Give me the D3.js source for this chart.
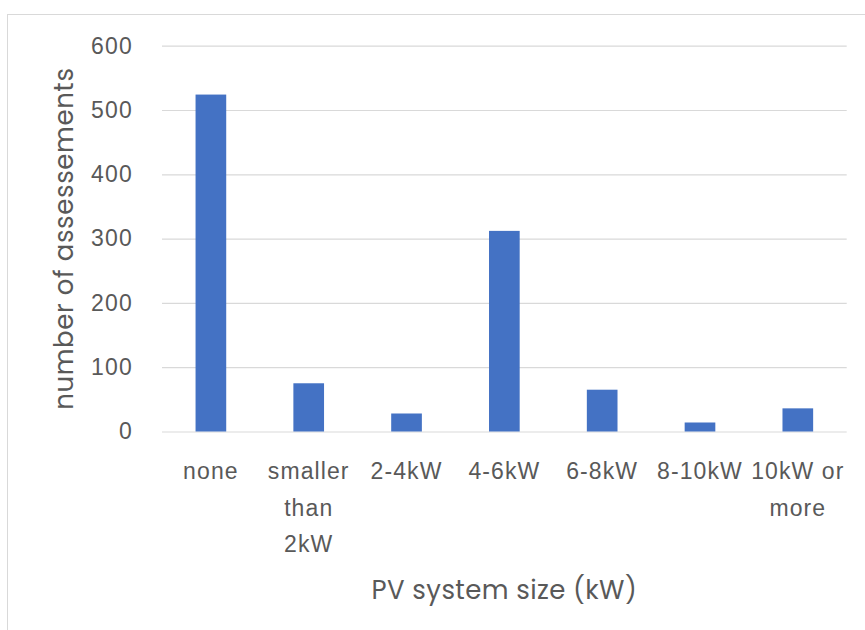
<!DOCTYPE html>
<html>
<head>
<meta charset="utf-8">
<script src="https://cdn.jsdelivr.net/npm/d3@7"></script>
<style>
    body { margin: 0; background: #fff; }
    svg { display: block; font-family: Poppins, "Open Sans", sans-serif; }
</style>
</head>
<body>
<div id="chart"></div>
<script>
    const categories = ["none", "smaller than 2kW", "2-4kW", "4-6kW", "6-8kW", "8-10kW", "10kW or more"];
    const counts = [524, 75, 28, 312, 65, 14, 36];
    const yTicks = [0, 100, 200, 300, 400, 500, 600];
    const xTitle = "PV system size (kW)";
    const yTitle = "number of assessements";

    (function() {
        const width = 865, height = 630;
        const marginLeft = 162, marginRight = 18.3, marginTop = 45.7, marginBottom = 198.5;
        const textColor = "#595959", gridColor = "#d9d9d9";

        const svg = d3.select("#chart").append("svg")
            .attr("width", width)
            .attr("height", height)
            .attr("viewBox", [0, 0, width, height]);

        // chart area frame, cut off at the right and bottom like the screenshot
        svg.append("rect")
            .attr("x", 7.5).attr("y", 14.5)
            .attr("width", 900).attr("height", 700)
            .attr("fill", "none")
            .attr("stroke", gridColor);

        const x = d3.scaleBand()
            .domain(categories)
            .range([marginLeft, width - marginRight])
            .paddingInner(0.6865)
            .paddingOuter(0.343);

        const y = d3.scaleLinear()
            .domain([0, 600])
            .range([height - marginBottom, marginTop]);

        // y axis: labels + gridlines
        svg.append("g")
            .attr("transform", `translate(${marginLeft},0)`)
            .call(d3.axisLeft(y).tickValues(yTicks).tickSize(0).tickPadding(29))
            .call(g => g.select(".domain").remove())
            .call(g => g.selectAll(".tick line").clone()
                .attr("x2", width - marginLeft - marginRight)
                .attr("stroke", gridColor)
                .attr("stroke-width", 1.2))
            .call(g => g.selectAll(".tick text")
                .attr("fill", textColor)
                .attr("font-size", 23)
                .attr("letter-spacing", 1.2)
                .attr("font-family", null));

        svg.append("g")
          .selectAll("rect")
          .data(counts)
          .join("rect")
            .attr("x", (d, i) => x(categories[i]))
            .attr("y", d => y(d))
            .attr("width", x.bandwidth())
            .attr("height", d => y(0) - y(d))
            .attr("fill", "#4472c4");

        // x axis labels, wrapped to the band step
        svg.append("g")
            .attr("transform", `translate(0,${height - marginBottom})`)
            .call(d3.axisBottom(x).tickSize(0).tickPadding(0))
            .call(g => g.select(".domain").remove())
            .call(g => g.selectAll(".tick text")
                .attr("fill", textColor)
                .attr("font-size", 23)
                .attr("letter-spacing", 1.1)
                .attr("font-family", null)
                .attr("y", 47.5)
                .attr("dy", null)
                .call(wrap, x.step() + 6));

        svg.append("text")
            .attr("x", (marginLeft + width - marginRight) / 2)
            .attr("y", 599)
            .attr("text-anchor", "middle")
            .attr("fill", textColor)
            .attr("font-size", 26)
            .attr("letter-spacing", 0.4)
            .text(xTitle);

        svg.append("text")
            .attr("transform", `translate(73,${(marginTop + height - marginBottom) / 2}) rotate(-90)`)
            .attr("text-anchor", "middle")
            .attr("fill", textColor)
            .attr("font-size", 26)
            .attr("letter-spacing", 0.6)
            .text(yTitle);
    })();

    function wrap(texts, maxWidth) {
        texts.each(function() {
            const text = d3.select(this);
            const words = text.text().split(/\s+/);
            const y0 = text.attr("y");
            let line = [];
            let lineNo = 0;
            text.text(null);
            let tspan = text.append("tspan").attr("x", 0).attr("y", y0);
            words.forEach(w => {
                line.push(w);
                tspan.text(line.join(" "));
                if (tspan.node().getComputedTextLength() > maxWidth && line.length > 1) {
                    line.pop();
                    tspan.text(line.join(" "));
                    line = [w];
                    lineNo++;
                    tspan = text.append("tspan")
                        .attr("x", 0)
                        .attr("y", +y0 + lineNo * 36.5)
                        .text(w);
                }
            });
        });
    }
</script>
</body>
</html>
